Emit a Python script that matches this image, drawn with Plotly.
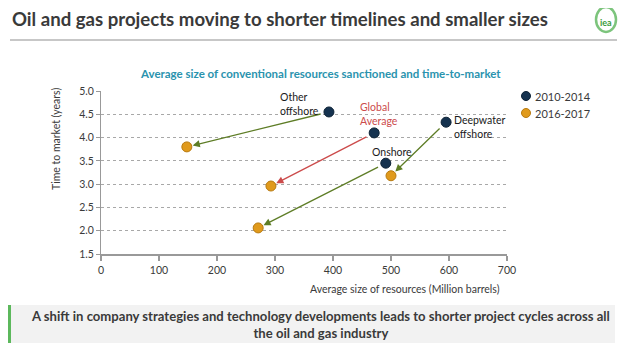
import plotly.graph_objects as go

categories = ["Other offshore", "Global Average", "Onshore", "Deepwater offshore"]
size_2010_2014 = [393, 471, 491, 595]
time_2010_2014 = [4.55, 4.10, 3.45, 4.33]
size_2016_2017 = [148, 293, 271, 500]
time_2016_2017 = [3.80, 2.96, 2.06, 3.18]
series_names = ["2010-2014", "2016-2017"]
x_ticks = [0, 100, 200, 300, 400, 500, 600, 700]
y_ticks = [1.5, 2.0, 2.5, 3.0, 3.5, 4.0, 4.5, 5.0]

FONT = "Lato"
NAVY = "#15324f"
ORANGE = "#e09a1c"
GREEN = "#5e7d26"
RED = "#cc4b4b"
TXT = "#3a3a3a"

# page body has an 8px margin -> figure is drawn 8px in from the window edge
OFF = 8
W, H = 638 - OFF, 359 - OFF
PL, PR, PT, PB = 101, 507, 91, 254  # plot area in window pixels
L, R, T, B = PL - OFF, W - (PR - OFF), PT - OFF, H - (PB - OFF)

def px(x): return (x - PL) / (PR - PL)
def py(y): return (PB - y) / (PB - PT)

fig = go.Figure()
fig.add_trace(go.Scatter(x=size_2010_2014, y=time_2010_2014, mode="markers", name=series_names[0],
                         showlegend=False,
                         marker=dict(size=10, color=NAVY, line=dict(color="#0d2236", width=1))))
fig.add_trace(go.Scatter(x=size_2016_2017, y=time_2016_2017, mode="markers", name=series_names[1],
                         showlegend=False,
                         marker=dict(size=10, color=ORANGE, line=dict(color="#b87a10", width=1))))

arrow_colors = [GREEN, RED, GREEN, GREEN]
for i in range(len(categories)):
    fig.add_annotation(x=size_2016_2017[i], y=time_2016_2017[i], ax=size_2010_2014[i], ay=time_2010_2014[i],
                       xref="x", yref="y", axref="x", ayref="y", text="", showarrow=True,
                       arrowhead=2, arrowsize=1.1, arrowwidth=1.3, arrowcolor=arrow_colors[i],
                       standoff=6, startstandoff=7)

labels = [
    dict(x=305, y=4.72, text="Other<br>offshore", color="#1a1a1a", xanchor="left"),
    dict(x=443, y=4.51, text="Global<br>Average", color=RED, xanchor="left"),
    dict(x=502, y=3.69, text="Onshore", color="#1a1a1a", xanchor="center"),
    dict(x=605, y=4.23, text="Deepwater<br>offshore", color="#1a1a1a", xanchor="left"),
]
for l in labels:
    fig.add_annotation(x=l["x"], y=l["y"], xref="x", yref="y", text=l["text"], showarrow=False,
                       xanchor=l["xanchor"], yanchor="middle", align="left",
                       font=dict(family=FONT, size=10.5, color=l["color"]))

def pann(x, y, text, size, color, xanchor="center", align="center", angle=0):
    fig.add_annotation(x=px(x), y=py(y), xref="paper", yref="paper", text=text, showarrow=False,
                       xanchor=xanchor, yanchor="middle", align=align, textangle=angle,
                       font=dict(family=FONT, size=size, color=color))

pann(10, 19, "<b>Oil and gas projects moving to shorter timelines and smaller sizes</b>", 18.6, TXT, xanchor="left")
pann(320, 73, "<b>Average size of conventional resources sanctioned and time-to-market</b>", 11.5, "#2a93ae")
pann(320, 324, "<b>A shift in company strategies and technology developments leads to shorter project cycles across all<br>the oil and gas industry</b>",
     13.1, TXT)
pann(606, 22, "<b>iea</b>", 9, "#3a9b3a")
pann(405, 289, "Average size of resources (Million barrels)", 10.5, TXT)
pann(56, 139, "Time to market (years)", 10.5, TXT, angle=-90)

# manual legend
legend_rows = [96, 113]
legend_colors = [(NAVY, "#0d2236"), (ORANGE, "#b87a10")]
shapes = []
for name, yy, (fc, lc) in zip(series_names, legend_rows, legend_colors):
    pann(533, yy, name, 11, TXT, xanchor="left")
    shapes.append(dict(type="circle", xref="paper", yref="paper", xsizemode="pixel", ysizemode="pixel",
                       xanchor=px(526), yanchor=py(yy), x0=-4.5, x1=4.5, y0=-4.5, y1=4.5,
                       fillcolor=fc, line=dict(color=lc, width=1)))

shapes += [
    dict(type="line", xref="paper", yref="paper", x0=px(10), x1=px(617), y0=py(40), y1=py(40),
         line=dict(color="#b5b5b5", width=1.5)),
    dict(type="rect", xref="paper", yref="paper", x0=px(8), x1=px(615), y0=py(343), y1=py(305),
         fillcolor="#f2f2f2", line=dict(width=0), layer="below"),
    dict(type="rect", xref="paper", yref="paper", x0=px(8), x1=px(11), y0=py(343), y1=py(305),
         fillcolor="#5cb85c", line=dict(width=0)),
    dict(type="circle", xref="paper", yref="paper", x0=px(596), x1=px(616), y0=py(32), y1=py(7),
         fillcolor="rgba(0,0,0,0)", line=dict(color="#7cc47c", width=2.5)),
]
fig.update_layout(shapes=shapes)

fig.update_layout(
    width=W, height=H, margin=dict(l=L, r=R, t=T, b=B),
    paper_bgcolor="white", plot_bgcolor="white", showlegend=False,
    font=dict(family=FONT, size=10, color=TXT),
    xaxis=dict(range=[0, 700], tickvals=x_ticks, showgrid=False, zeroline=False,
               showline=True, linecolor="#999999", linewidth=2, ticks="outside", ticklen=5,
               tickcolor="#999999", tickwidth=1.5, tickfont=dict(size=10.5, color=TXT)),
    yaxis=dict(range=[1.5, 5.0], tickvals=y_ticks, tickformat=".1f", showgrid=True, gridcolor="#a8a8a8",
               griddash="dot", gridwidth=1, zeroline=False, showline=True, linecolor="#999999", linewidth=1,
               ticks="outside", ticklen=4, tickcolor="#999999", tickfont=dict(size=10.5, color=TXT)),
)
fig.write_html("out.html")
